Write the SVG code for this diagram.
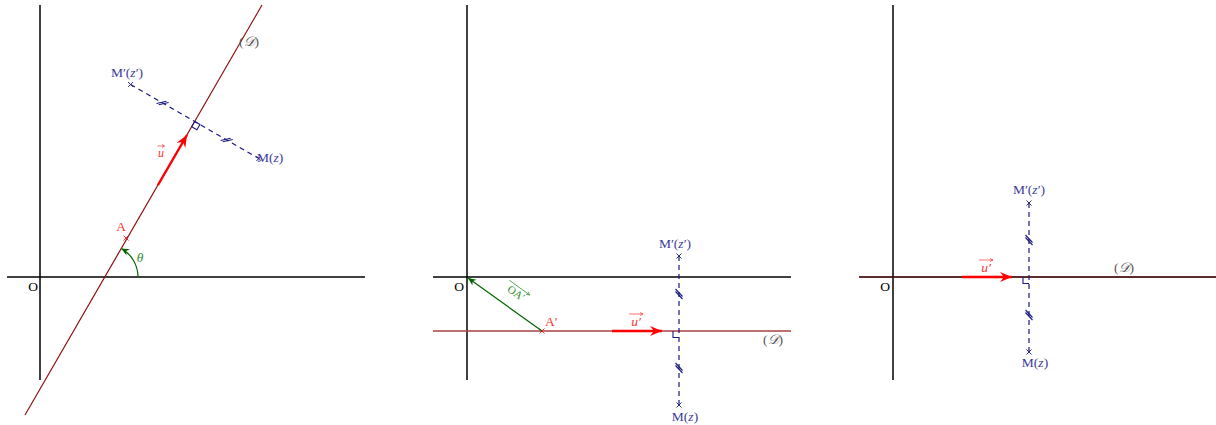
<svg xmlns="http://www.w3.org/2000/svg" width="1216" height="425" viewBox="0 0 1216 425">
<style>
.ax{stroke:#000;stroke-width:1.5;fill:none}
.dl{stroke:#8b1010;stroke-width:1.2;fill:none}
.dl2{stroke:#a84040;stroke-width:1.4;fill:none}
.perp{stroke:#1a1a80;stroke-width:1.2;fill:none;stroke-dasharray:5,4}
.sq{stroke:#1a1a80;stroke-width:1.1;fill:none}
.crs{stroke:#1a1a80;stroke-width:0.9;fill:none}
.crsr{stroke:#ff2020;stroke-width:0.9;fill:none}
.vec{stroke:#ff0000;stroke-width:2.4;fill:none}
.gr{stroke:#006400;stroke-width:1.2;fill:none}
.oa{stroke-width:0.7;fill:none}
text{font-family:"Liberation Serif","DejaVu Serif",serif;font-size:13.5px;text-anchor:middle}
.tb{fill:#3a3a9a}
.tr{fill:#ff3030}
.tg{fill:#2e8b2e}
.tk{fill:#000}
.td{fill:#555}
.it{font-style:italic}
.st{text-anchor:start}
</style>
<defs>
<marker id="ar" markerUnits="userSpaceOnUse" viewBox="-13 -6 14 12" refX="0" refY="0" markerWidth="14" markerHeight="12" orient="auto">
<path d="M0,0 L-12,-5 L-8,0 L-12,5 Z" fill="#ff0000"/>
</marker>
<marker id="ag" markerUnits="userSpaceOnUse" viewBox="-10 -5 11 10" refX="0" refY="0" markerWidth="11" markerHeight="10" orient="auto">
<path d="M0,0 L-8,-3.5 L-5.5,0 L-8,3.5 Z" fill="#006400"/>
</marker>
<g id="tick" class="crs" style="stroke-width:1.1">
<line x1="-5" y1="3.5" x2="2.5" y2="-3.5"/>
<line x1="-2.5" y1="3.5" x2="5" y2="-3.5"/>
</g>
<g id="x" class="crs">
<line x1="-2.5" y1="-2.5" x2="2.5" y2="2.5"/>
<line x1="-2.5" y1="2.5" x2="2.5" y2="-2.5"/>
</g>
</defs>

<!-- Panel 1 -->
<g id="panel1-axes">
<line class="ax" x1="40" y1="5" x2="40" y2="380"/>
<line class="ax" x1="7" y1="277" x2="365" y2="277"/>
<text class="tk" x="33" y="291">O</text>
</g>
<g id="panel1-D">
<line class="dl" x1="25" y1="415" x2="262" y2="5"/>
<text class="td" x="249" y="46">(<tspan class="it">𝒟</tspan>)</text>
</g>
<g id="panel1-A">
<g class="crsr"><line x1="123.5" y1="235.5" x2="128.5" y2="240.5"/><line x1="123.5" y1="240.5" x2="128.5" y2="235.5"/></g>
<text class="tr" x="121" y="231">A</text>
</g>
<g id="panel1-connectors">
<line class="vec" x1="158" y1="185" x2="187" y2="135" marker-end="url(#ar)"/>
<text class="tr it" x="161" y="157" style="font-size:12px">u</text>
<line class="oa" x1="157.5" y1="146" x2="164.5" y2="146" stroke="#ff3030"/>
<path class="oa" d="M164.5,146 l-2.5,-1.5 M164.5,146 l-2.5,1.5" stroke="#ff3030"/>
<path class="gr" d="M138,277 A33,33 0 0 0 121.3,248.4" marker-end="url(#ag)"/>
<text class="tg it" x="140" y="262">θ</text>
<line class="perp" x1="130.6" y1="84.5" x2="258.8" y2="158.5"/>
<polygon class="sq" points="194.7,121.5 199.9,124.5 196.9,129.7 191.7,126.7"/>
<use href="#tick" transform="translate(162.6,103) rotate(30)"/>
<use href="#tick" transform="translate(226.7,140) rotate(30)"/>
</g>
<g id="panel1-Mp">
<use href="#x" transform="translate(130.6,84.5)"/>
<text class="tb" x="127" y="77">M′(<tspan class="it">z</tspan>′)</text>
</g>
<g id="panel1-M">
<use href="#x" transform="translate(258.8,158.5)"/>
<text class="tb st" x="257" y="162">M(<tspan class="it">z</tspan>)</text>
</g>

<!-- Panel 2 -->
<g id="panel2-axes">
<line class="ax" x1="467" y1="5" x2="467" y2="380"/>
<line class="ax" x1="433" y1="277" x2="791" y2="277"/>
<text class="tk" x="459" y="291">O</text>
</g>
<g id="panel2-D">
<line class="dl2" x1="433" y1="331" x2="791" y2="331"/>
<text class="td" x="773" y="344">(<tspan class="it">𝒟</tspan>)</text>
</g>
<g id="panel2-A">
<g class="crsr"><line x1="539.5" y1="328.5" x2="544.5" y2="333.5"/><line x1="539.5" y1="333.5" x2="544.5" y2="328.5"/></g>
<text class="tr st" x="545" y="326">A′</text>
</g>
<g id="panel2-connectors">
<line class="gr" x1="542" y1="331" x2="468" y2="278" marker-end="url(#ag)"/>
<g transform="translate(514,296) rotate(35.8)">
<text class="tg" x="0" y="0" style="font-size:11px">OA′</text>
<line class="oa" x1="-13" y1="-10" x2="12" y2="-10" stroke="#2e8b2e"/>
<path class="oa" d="M12,-10 l-3,-1.5 M12,-10 l-3,1.5" stroke="#2e8b2e"/>
</g>
<line class="vec" x1="612" y1="331" x2="662" y2="331" marker-end="url(#ar)"/>
<text class="tr it" x="636" y="326">u′</text>
<line class="oa" x1="629" y1="314" x2="643" y2="314" stroke="#ff3030"/>
<path class="oa" d="M643,314 l-3,-1.5 M643,314 l-3,1.5" stroke="#ff3030"/>
<line class="perp" x1="679" y1="256" x2="679" y2="405"/>
<polyline class="sq" points="673,331 673,337.5 679,337.5"/>
<use href="#tick" transform="translate(679,294) rotate(90)"/>
<use href="#tick" transform="translate(679,368) rotate(90)"/>
</g>
<g id="panel2-Mp">
<use href="#x" transform="translate(679,256)"/>
<text class="tb" x="675" y="248">M′(<tspan class="it">z</tspan>′)</text>
</g>
<g id="panel2-M">
<use href="#x" transform="translate(679,405)"/>
<text class="tb" x="685" y="421">M(<tspan class="it">z</tspan>)</text>
</g>

<!-- Panel 3 -->
<g id="panel3-axes">
<line class="ax" x1="893" y1="5" x2="893" y2="380"/>
<line class="ax" x1="859" y1="277" x2="1216" y2="277"/>
<text class="tk" x="885" y="291">O</text>
</g>
<g id="panel3-D">
<line x1="859" y1="277" x2="1216" y2="277" stroke="#8b1010" stroke-width="0.8"/>
<text class="td" x="1124" y="272">(<tspan class="it">𝒟</tspan>)</text>
</g>
<g id="panel3-connectors">
<line class="vec" x1="962" y1="277" x2="1012" y2="277" marker-end="url(#ar)"/>
<text class="tr it" x="986" y="272">u′</text>
<line class="oa" x1="979" y1="260" x2="993" y2="260" stroke="#ff3030"/>
<path class="oa" d="M993,260 l-3,-1.5 M993,260 l-3,1.5" stroke="#ff3030"/>
<line class="perp" x1="1029" y1="203" x2="1029" y2="352"/>
<polyline class="sq" points="1023,277 1023,283.5 1029,283.5"/>
<use href="#tick" transform="translate(1029,240) rotate(90)"/>
<use href="#tick" transform="translate(1029,315) rotate(90)"/>
</g>
<g id="panel3-Mp">
<use href="#x" transform="translate(1029,203)"/>
<text class="tb" x="1029" y="194">M′(<tspan class="it">z</tspan>′)</text>
</g>
<g id="panel3-M">
<use href="#x" transform="translate(1029,352)"/>
<text class="tb" x="1035" y="367">M(<tspan class="it">z</tspan>)</text>
</g>
</svg>
